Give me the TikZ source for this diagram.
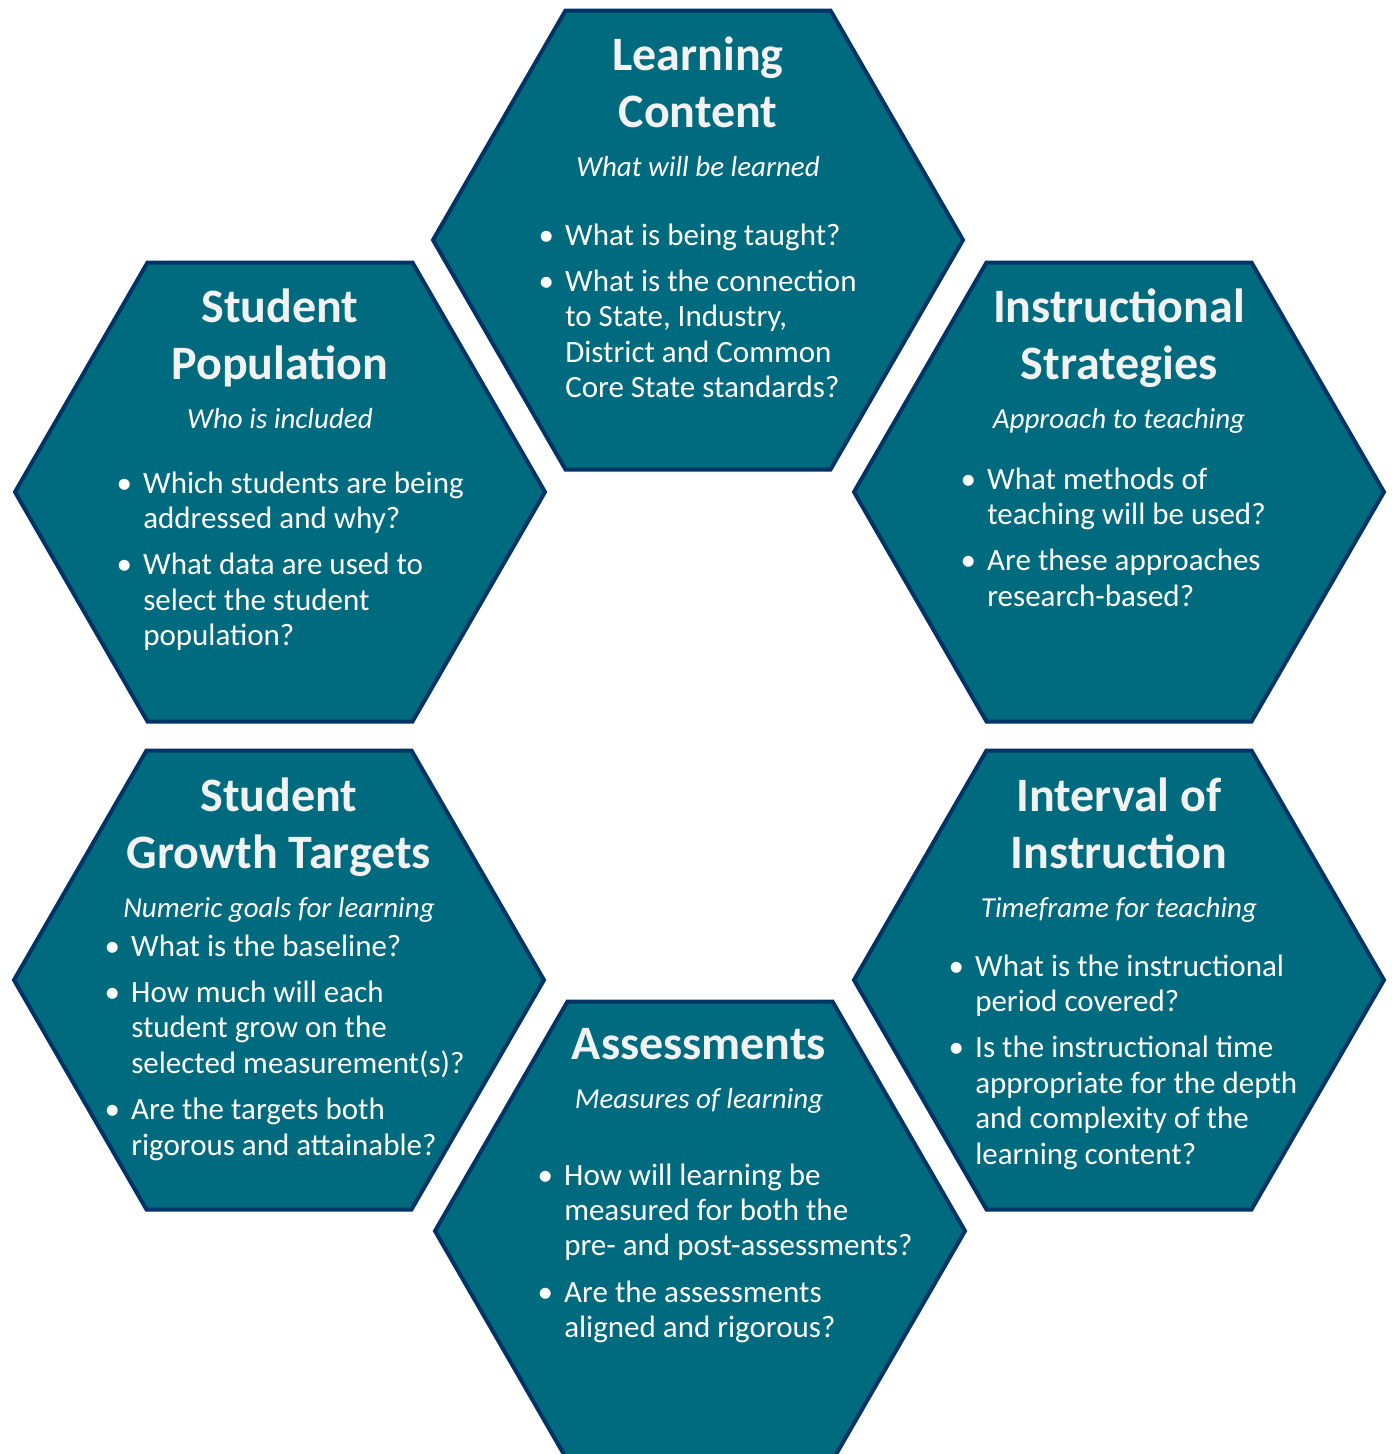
\documentclass[tikz,border=0pt]{standalone}
\usepackage{fontspec}
\setmainfont{Carlito}
\usetikzlibrary{shapes.geometric,positioning}

\definecolor{hexfill}{RGB}{0,106,127}
\definecolor{hexline}{RGB}{0,52,102}
\definecolor{titlegray}{RGB}{242,242,242}
\newcommand{\qb}{\makebox[28.5pt]{\textbullet}}

\begin{document}
\begin{tikzpicture}[x=0.75pt, y=-0.75pt]
        % Define block styles
        \tikzstyle{hexa} = [regular polygon, regular polygon sides=6, draw=hexline,
            line width=3pt, fill=hexfill, minimum size=397.5pt, inner sep=0pt]
        \tikzstyle{title} = [text=titlegray, font=\fontsize{36}{42.75}\selectfont\bfseries,
            align=center, anchor=base, inner sep=0pt]
        \tikzstyle{subtitle} = [text=white, font=\fontsize{21.75}{26}\selectfont\itshape,
            anchor=base, inner sep=0pt]
        \tikzstyle{qlist} = [text=white, font=\fontsize{23.25}{26.6}\selectfont,
            anchor=base west, inner sep=0pt]

        \useasboundingbox (0,0) rectangle (1392,1454);

        % Hexagons
        \node [hexa] (content) at (698,240) {};
        \node [hexa] (population) at (280,492) {};
        \node [hexa] (strategies) at (1119,492) {};
        \node [hexa] (targets) at (279,980) {};
        \node [hexa] (interval) at (1119,980) {};
        \node [hexa] (assess) at (700,1231) {};

        % Learning Content
        \node [title] (content-t) at (698,127) {Learning\\Content};
        \node [subtitle] (content-s) at (698,176) {What will be learned};
        \node [qlist] (content-q) at (527,245) {\begin{tabular}[t]{@{}l@{}l@{}}
            \qb & What is being taught?\\[8.25pt]
            \qb & What is the connection\\
                & to State, Industry,\\
                & District and Common\\
                & Core State standards?
        \end{tabular}};

        % Student Population
        \node [title] (population-t) at (280,379) {Student\\Population};
        \node [subtitle] (population-s) at (280,428) {Who is included};
        \node [qlist] (population-q) at (105,493) {\begin{tabular}[t]{@{}l@{}l@{}}
            \qb & Which students are being\\
                & addressed and why?\\[8.25pt]
            \qb & What data are used to\\
                & select the student\\
                & population?
        \end{tabular}};

        % Instructional Strategies
        \node [title] (strategies-t) at (1119,379) {Instructional\\Strategies};
        \node [subtitle] (strategies-s) at (1119,428) {Approach to teaching};
        \node [qlist] (strategies-q) at (949,489) {\begin{tabular}[t]{@{}l@{}l@{}}
            \qb & What methods of\\
                & teaching will be used?\\[8.25pt]
            \qb & Are these approaches\\
                & research-based?
        \end{tabular}};

        % Student Growth Targets
        \node [title] (targets-t) at (279,868) {Student\\Growth Targets};
        \node [subtitle] (targets-s) at (279,917) {Numeric goals for learning};
        \node [qlist] (targets-q) at (93,956) {\begin{tabular}[t]{@{}l@{}l@{}}
            \qb & What is the baseline?\\[8.25pt]
            \qb & How much will each\\
                & student grow on the\\
                & selected measurement(s)?\\[8.25pt]
            \qb & Are the targets both\\
                & rigorous and attainable?
        \end{tabular}};

        % Interval of Instruction
        \node [title] (interval-t) at (1119,868) {Interval of\\Instruction};
        \node [subtitle] (interval-s) at (1119,917) {Timeframe for teaching};
        \node [qlist] (interval-q) at (937,976) {\begin{tabular}[t]{@{}l@{}l@{}}
            \qb & What is the instructional\\
                & period covered?\\[8.25pt]
            \qb & Is the instructional time\\
                & appropriate for the depth\\
                & and complexity of the\\
                & learning content?
        \end{tabular}};

        % Assessments
        \node [title] (assess-t) at (699,1059) {Assessments};
        \node [subtitle] (assess-s) at (699,1108) {Measures of learning};
        \node [qlist] (assess-q) at (526,1185) {\begin{tabular}[t]{@{}l@{}l@{}}
            \qb & How will learning be\\
                & measured for both the\\
                & pre- and post-assessments?\\[8.25pt]
            \qb & Are the assessments\\
                & aligned and rigorous?
        \end{tabular}};
\end{tikzpicture}
\end{document}
